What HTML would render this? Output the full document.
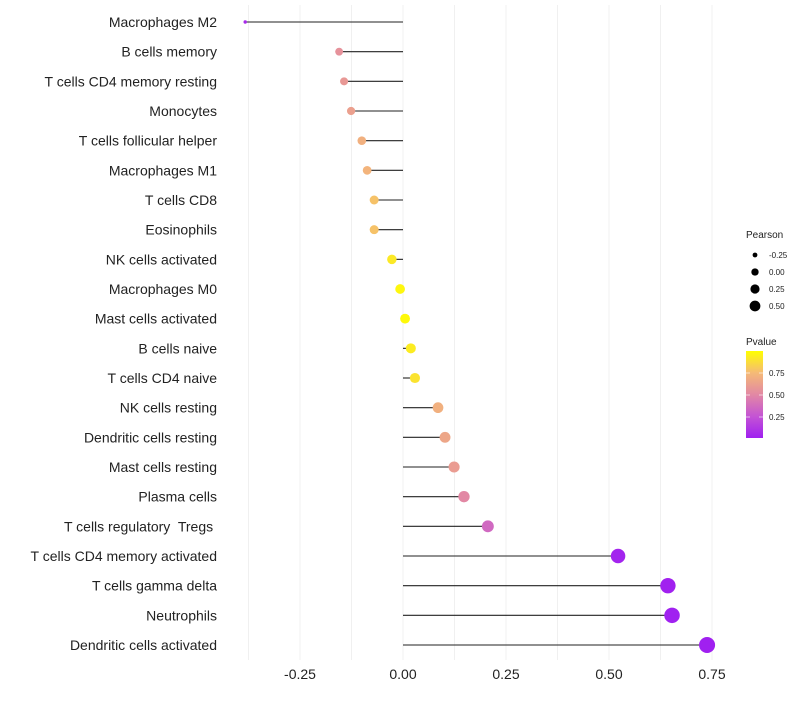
<!DOCTYPE html>
<html><head><meta charset="utf-8"><style>
body{margin:0;background:#fff;font-family:"Liberation Sans",sans-serif}
text{white-space:pre}
</style></head><body>
<svg id="chart" width="800" height="700" xmlns="http://www.w3.org/2000/svg"></svg>
<script>
const categories=["Macrophages M2","B cells memory","T cells CD4 memory resting","Monocytes","T cells follicular helper","Macrophages M1","T cells CD8","Eosinophils","NK cells activated","Macrophages M0","Mast cells activated","B cells naive","T cells CD4 naive","NK cells resting","Dendritic cells resting","Mast cells resting","Plasma cells","T cells regulatory  Tregs ","T cells CD4 memory activated","T cells gamma delta","Neutrophils","Dendritic cells activated"];
const pearson=[-0.383,-0.155,-0.143,-0.126,-0.100,-0.087,-0.070,-0.070,-0.027,-0.007,0.005,0.019,0.029,0.085,0.102,0.124,0.148,0.206,0.522,0.643,0.653,0.738];
const pvalue=[0.05,0.55,0.58,0.62,0.70,0.72,0.78,0.78,0.92,0.97,0.98,0.93,0.90,0.70,0.65,0.60,0.50,0.35,0.02,0.005,0.003,0.001];
const xTicks=[-0.25,0,0.25,0.5,0.75];
const xTickLabels=["-0.25","0.00","0.25","0.50","0.75"];
const sizeLegend=[-0.25,0,0.25,0.5];
const sizeLegendLabels=["-0.25","0.00","0.25","0.50"];
const pLegendTicks=[0.25,0.5,0.75];

const NS="http://www.w3.org/2000/svg";
const svg=document.getElementById('chart');
function mk(t,a,txt){const e=document.createElementNS(NS,t);for(const k in a)e.setAttribute(k,a[k]);if(txt!==undefined)e.textContent=txt;svg.appendChild(e);return e;}
const X=v=>403+v*412;
const Y=i=>22+i*(623/21);
const R=v=>Math.sqrt(Math.max(1.5,24+55*v));
const stops=[[0,[160,32,240]],[0.25,[196,84,212]],[0.5,[226,136,164]],[0.75,[245,186,118]],[1,[255,255,0]]];
function col(p){for(let i=1;i<stops.length;i++){if(p<=stops[i][0]){const a=stops[i-1],b=stops[i];const t=(p-a[0])/(b[0]-a[0]);return 'rgb('+a[1].map((c,j)=>Math.round(c+(b[1][j]-c)*t)).join(',')+')';}}return 'rgb(255,255,0)';}

for(let v=-0.375;v<=0.76;v+=0.125){const g=mk('line',{x1:X(v),x2:X(v),y1:5,y2:660,stroke:'#f0f0f0','stroke-width':1});}
xTicks.forEach((v,i)=>{const t=mk('text',{x:X(v),y:679,'text-anchor':'middle','font-size':14,fill:'#222'},xTickLabels[i]);});
categories.forEach((c,i)=>{
 const y=Y(i);
 const l=mk('text',{x:217,y:y+5,'text-anchor':'end','font-size':14,fill:'#222'},c);
 
 const s=mk('line',{x1:X(0),x2:X(pearson[i]),y1:y,y2:y,stroke:'#222','stroke-width':1.1});
 
 const d=mk('circle',{cx:X(pearson[i]),cy:y,r:R(pearson[i]),fill:col(pvalue[i])});
 
});
const lt=mk('text',{x:746,y:238,'font-size':10,fill:'#222'},'Pearson');
sizeLegend.forEach((v,i)=>{const y=255+i*17;
 const c=mk('circle',{cx:755,cy:y,r:R(v)*0.75,fill:'#000'});
 const t=mk('text',{x:769,y:y+3,'font-size':8,fill:'#222'},sizeLegendLabels[i]);});
const defs=mk('defs',{});const lg=document.createElementNS(NS,'linearGradient');lg.setAttribute('id','pg');lg.setAttribute('x1','0');lg.setAttribute('y1','1');lg.setAttribute('x2','0');lg.setAttribute('y2','0');defs.appendChild(lg);
stops.forEach(s=>{const st=document.createElementNS(NS,'stop');st.setAttribute('offset',s[0]);st.setAttribute('stop-color','rgb('+s[1].join(',')+')');lg.appendChild(st);});
const pt=mk('text',{x:746,y:345,'font-size':10,fill:'#222'},'Pvalue');
const bar=mk('rect',{x:746,y:351,width:17,height:87,fill:'url(#pg)'});
pLegendTicks.forEach(p=>{const y=439-p*88;
 mk('line',{x1:746,x2:750,y1:y,y2:y,stroke:'#fff','stroke-width':0.6});mk('line',{x1:759,x2:763,y1:y,y2:y,stroke:'#fff','stroke-width':0.6});
 const t=mk('text',{x:769,y:y+3,'font-size':8,fill:'#222'},p.toFixed(2));});
</script>
</body></html>
